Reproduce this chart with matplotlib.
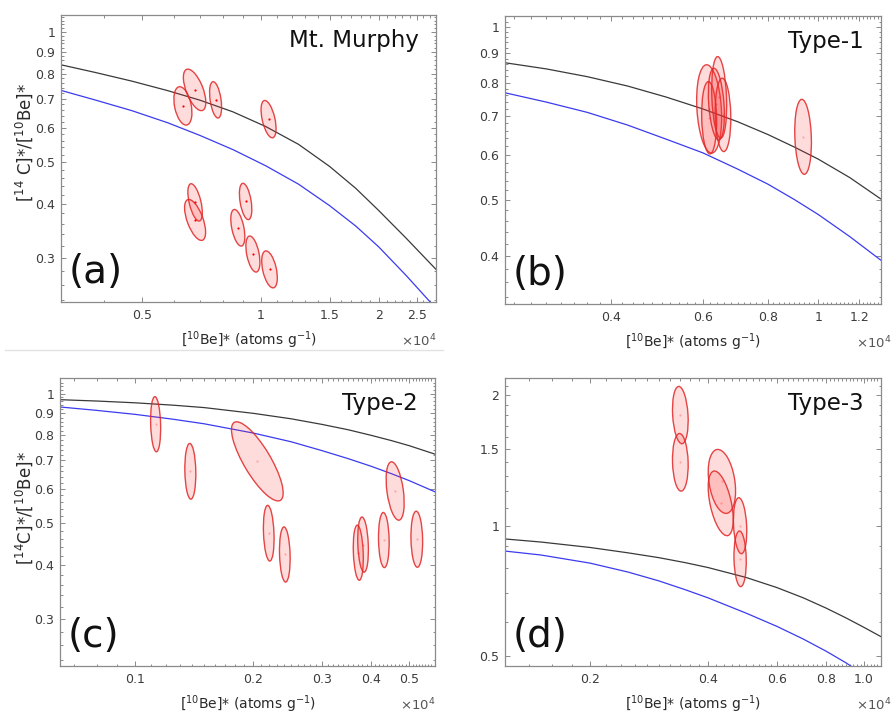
import numpy as np
import matplotlib.pyplot as plt
from matplotlib.patches import Ellipse
from matplotlib.ticker import FixedLocator, FixedFormatter, NullFormatter

W, H = 893, 715

# x values are [10Be]* in units of 1e4 atoms/g, y is [14C]*/[10Be]*

# ---- (a) Mt. Murphy ----
a_line_x = [0.31, 0.38, 0.47, 0.58, 0.70, 0.85, 1.03, 1.25, 1.5, 1.75, 2.0, 2.35, 2.8]
a_black_y = [0.839, 0.805, 0.769, 0.731, 0.695, 0.653, 0.604, 0.549, 0.488, 0.434, 0.386, 0.333, 0.282]
a_blue_y = [0.732, 0.695, 0.657, 0.616, 0.576, 0.534, 0.490, 0.444, 0.396, 0.355, 0.318, 0.273, 0.229]
a_cx = [0.634, 0.679, 0.768, 1.048, 0.681, 0.681, 0.916, 0.875, 0.956, 1.054]
a_cy = [0.674, 0.734, 0.696, 0.628, 0.403, 0.367, 0.405, 0.352, 0.306, 0.282]
a_sx = [0.023, 0.0286, 0.0153, 0.0191, 0.0184, 0.0268, 0.0158, 0.0179, 0.0179, 0.0199]
a_sy = [0.0444, 0.048, 0.042, 0.0432, 0.0432, 0.0474, 0.042, 0.0424, 0.0417, 0.0428]
a_rho = [-0.35, -0.6, -0.4, -0.5, -0.55, -0.6, -0.43, -0.48, -0.45, -0.45]

# ---- (b) Type-1 ----
b_line_x = [0.25, 0.30, 0.36, 0.43, 0.51, 0.60, 0.70, 0.80, 0.90, 1.0, 1.15, 1.32]
b_black_y = [0.866, 0.845, 0.819, 0.789, 0.755, 0.720, 0.684, 0.650, 0.618, 0.589, 0.547, 0.502]
b_blue_y = [0.768, 0.740, 0.710, 0.675, 0.638, 0.604, 0.566, 0.533, 0.501, 0.472, 0.432, 0.393]
b_cx = [0.617, 0.617, 0.645, 0.656, 0.637, 0.935]
b_cy = [0.720, 0.695, 0.754, 0.703, 0.734, 0.644]
b_sx = [0.024, 0.0144, 0.0144, 0.015, 0.0154, 0.016]
b_sy = [0.0767, 0.0628, 0.0708, 0.0637, 0.0622, 0.0651]
b_rho = [-0.2, -0.1, -0.2, -0.1, -0.3, -0.15]

# ---- (c) Type-2 ----
c_line_x = [0.0644, 0.08, 0.1, 0.125, 0.15, 0.2, 0.25, 0.3, 0.35, 0.4, 0.45, 0.5, 0.583]
c_black_y = [0.968, 0.961, 0.952, 0.940, 0.928, 0.900, 0.874, 0.848, 0.824, 0.800, 0.778, 0.757, 0.723]
c_blue_y = [0.931, 0.914, 0.895, 0.872, 0.851, 0.810, 0.773, 0.737, 0.706, 0.678, 0.652, 0.628, 0.591]
c_cx = [0.1129, 0.1384, 0.2051, 0.2193, 0.241, 0.371, 0.3815, 0.431, 0.4606, 0.523]
c_cy = [0.849, 0.660, 0.696, 0.474, 0.423, 0.427, 0.446, 0.457, 0.594, 0.459]
c_sx = [0.0128, 0.014, 0.0659, 0.0136, 0.0136, 0.0128, 0.0136, 0.0136, 0.023, 0.0149]
c_sy = [0.064, 0.0647, 0.0919, 0.0647, 0.064, 0.064, 0.064, 0.064, 0.0678, 0.0651]
c_rho = [-0.15, -0.1, -0.8, -0.2, -0.15, -0.2, -0.2, -0.1, -0.4, -0.1]

# ---- (d) Type-3 ----
d_line_x = [0.1216, 0.15, 0.2, 0.25, 0.3, 0.35, 0.4, 0.5, 0.6, 0.7, 0.8, 0.9, 1.0, 1.105]
d_black_y = [0.932, 0.917, 0.891, 0.866, 0.844, 0.822, 0.801, 0.760, 0.720, 0.682, 0.646, 0.613, 0.583, 0.555]
d_blue_x = [0.1216, 0.15, 0.2, 0.25, 0.3, 0.35, 0.4, 0.5, 0.6, 0.7, 0.8, 0.9, 1.0]
d_blue_y = [0.874, 0.856, 0.820, 0.782, 0.746, 0.712, 0.682, 0.629, 0.586, 0.548, 0.514, 0.483, 0.453]
d_cx = [0.340, 0.340, 0.434, 0.431, 0.483, 0.483]
d_cy = [1.799, 1.40, 1.265, 1.126, 1.0, 0.839]
d_sx = [0.020, 0.020, 0.0349, 0.0319, 0.017, 0.0157]
d_sy = [0.066, 0.0664, 0.0737, 0.0745, 0.0645, 0.0641]
d_rho = [-0.2, -0.1, -0.3, -0.5, -0.2, -0.1]

TICK_COL = '#3c3c3c'
FRAME_COL = '#8a8a8a'

fig = plt.figure(figsize=(W / 100, H / 100), dpi=100)


def make_axes(l, t, r, b):
    return fig.add_axes([l / W, 1 - b / H, (r - l) / W, (b - t) / H])


def add_ellipses(ax, cx, cy, sx, sy, rho, dot_alpha):
    # ellipses are defined in log10 space (decades)
    trans = ax.transLimits + ax.transAxes
    for x, y, a, b, r in zip(cx, cy, sx, sy, rho):
        cov = np.array([[a * a, r * a * b], [r * a * b, b * b]])
        vals, vecs = np.linalg.eigh(cov)
        ang = np.degrees(np.arctan2(vecs[1, 1], vecs[0, 1]))
        e = Ellipse((np.log10(x), np.log10(y)), 2 * np.sqrt(vals[1]), 2 * np.sqrt(vals[0]),
                    angle=ang, transform=trans, facecolor=(1, 0.2, 0.2, 0.17),
                    edgecolor=(0.88, 0.15, 0.15, 0.85), lw=1.0, zorder=3)
        ax.add_patch(e)
    ax.plot(cx, cy, 'o', ms=1.6, color='red', alpha=dot_alpha, mec='none', zorder=4)


def style(ax, xlim, ylim, xmaj, xlab, xmin, ymaj, ylab, ymin):
    ax.set_xscale('log')
    ax.set_yscale('log')
    ax.set_xlim(xlim)
    ax.set_ylim(ylim)
    ax.xaxis.set_major_locator(FixedLocator(xmaj))
    ax.xaxis.set_major_formatter(FixedFormatter(xlab))
    ax.xaxis.set_minor_locator(FixedLocator(xmin))
    ax.xaxis.set_minor_formatter(NullFormatter())
    ax.yaxis.set_major_locator(FixedLocator(ymaj))
    ax.yaxis.set_major_formatter(FixedFormatter(ylab))
    ax.yaxis.set_minor_locator(FixedLocator(ymin))
    ax.yaxis.set_minor_formatter(NullFormatter())
    ax.tick_params(which='both', direction='in', top=True, right=True,
                   color=FRAME_COL, labelcolor=TICK_COL, labelsize=9, width=0.7)
    ax.tick_params(which='major', length=3.5)
    ax.tick_params(which='minor', length=1.8)
    ax.tick_params(axis='x', pad=5)
    ax.tick_params(axis='y', pad=4)
    for s in ax.spines.values():
        s.set_color(FRAME_COL)
        s.set_linewidth(0.9)


def labels(ax, name, tag, xpow_right, ylabel=None, ylab_y=None):
    ax.text(0.955, 0.89, name, transform=ax.transAxes, ha='right', va='baseline',
            fontsize=16.5, color='#111111')
    ax.text(0.02, 0.065, tag, transform=ax.transAxes, ha='left', va='baseline',
            fontsize=28, color='#111111')
    bb = ax.get_position()
    ax.text(0.5, -38 / (bb.height * H), r'[$^{10}$Be]* (atoms g$^{-1}$)',
            transform=ax.transAxes, ha='center', va='center', fontsize=10, color='#2a2a2a')
    ax.text((xpow_right / W - bb.x0) / bb.width, -39 / (bb.height * H), r'$\times10^{4}$',
            transform=ax.transAxes, ha='right', va='center', fontsize=9.5, color='#555555')
    if ylabel:
        fig.text(24 / W, 1 - ylab_y / H, ylabel, rotation=90, ha='center', va='center',
                 fontsize=12, color='#2a2a2a')


def curves(ax, bx, by, ux, uy):
    ax.plot(bx, by, color='#3a3a3a', lw=0.9, zorder=2)
    ax.plot(ux, uy, color='#3b3bf0', lw=0.9, zorder=2)


# (a)
ax = make_axes(61, 15, 436, 302)
style(ax, (0.31, 2.8), (0.237, 1.094),
      [0.5, 1, 1.5, 2, 2.5], ['0.5', '1', '1.5', '2', '2.5'], np.arange(0.4, 2.85, 0.1),
      [0.3, 0.4, 0.5, 0.6, 0.7, 0.8, 0.9, 1], ['0.3', '0.4', '0.5', '0.6', '0.7', '0.8', '0.9', '1'],
      np.arange(0.24, 1.09, 0.02))
curves(ax, a_line_x, a_black_y, a_line_x, a_blue_y)
add_ellipses(ax, a_cx, a_cy, a_sx, a_sy, a_rho, 1.0)
labels(ax, 'Mt. Murphy', '(a)', 436, r'[$^{14}$ C]*/[$^{10}$Be]*', 142)

# (b)
ax = make_axes(505, 16, 881, 304)
style(ax, (0.25, 1.32), (0.33, 1.044),
      [0.4, 0.6, 0.8, 1, 1.2], ['0.4', '0.6', '0.8', '1', '1.2'], np.arange(0.26, 1.32, 0.02),
      [0.4, 0.5, 0.6, 0.7, 0.8, 0.9, 1], ['0.4', '0.5', '0.6', '0.7', '0.8', '0.9', '1'],
      np.arange(0.34, 1.04, 0.02))
curves(ax, b_line_x, b_black_y, b_line_x, b_blue_y)
add_ellipses(ax, b_cx, b_cy, b_sx, b_sy, b_rho, 0.25)
labels(ax, 'Type-1', '(b)', 891)

# (c)
ax = make_axes(60, 378, 435, 666)
style(ax, (0.0644, 0.582), (0.233, 1.087),
      [0.1, 0.2, 0.3, 0.4, 0.5], ['0.1', '0.2', '0.3', '0.4', '0.5'], np.arange(0.07, 0.58, 0.01),
      [0.3, 0.4, 0.5, 0.6, 0.7, 0.8, 0.9, 1], ['0.3', '0.4', '0.5', '0.6', '0.7', '0.8', '0.9', '1'],
      np.arange(0.24, 1.08, 0.02))
curves(ax, c_line_x, c_black_y, c_line_x, c_blue_y)
add_ellipses(ax, c_cx, c_cy, c_sx, c_sy, c_rho, 0.25)
labels(ax, 'Type-2', '(c)', 435, r'[$^{14}$C]*/[$^{10}$Be]*', 508)

# (d)
ax = make_axes(505, 378, 881, 666)
style(ax, (0.1214, 1.105), (0.475, 2.19),
      [0.2, 0.4, 0.6, 0.8, 1.0], ['0.2', '0.4', '0.6', '0.8', '1.0'], np.arange(0.14, 1.1, 0.02),
      [0.5, 1, 1.5, 2], ['0.5', '1', '1.5', '2'], np.arange(0.5, 2.2, 0.1))
curves(ax, d_line_x, d_black_y, d_blue_x, d_blue_y)
add_ellipses(ax, d_cx, d_cy, d_sx, d_sy, d_rho, 0.25)
labels(ax, 'Type-3', '(d)', 891)

# thin separator under the top-left panel
fig.add_artist(plt.Line2D([5 / W, 443 / W], [1 - 350 / H, 1 - 350 / H], color='#e2e2e2', lw=1))

fig.savefig('out.png', dpi=100)
